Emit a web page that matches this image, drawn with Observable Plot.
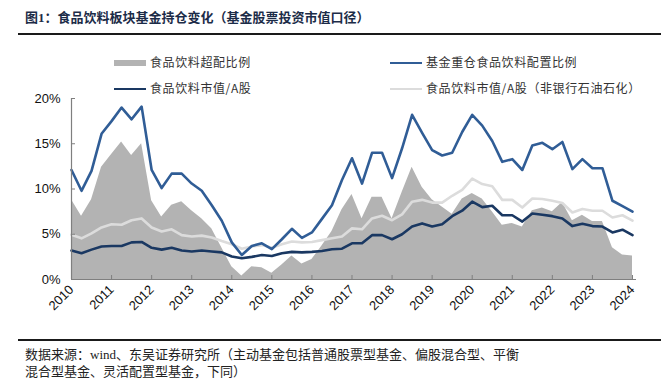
<!DOCTYPE html>
<html><head><meta charset="utf-8">
<script src="https://cdn.jsdelivr.net/npm/d3@7"></script>
<script src="https://cdn.jsdelivr.net/npm/@observablehq/plot@0.6"></script>
<style>
body{margin:0;width:666px;height:389px;position:relative;background:#fff;overflow:hidden;font-family:"Noto Sans CJK SC",sans-serif;}
#title{position:absolute;left:25px;top:7px;font-size:13px;font-weight:bold;color:#1c2c48;font-family:"Liberation Serif","Noto Sans CJK SC",serif;white-space:nowrap;}
.hr{position:absolute;left:18px;width:643px;height:2px;background:#1a1a1a;}
#chart{position:absolute;left:0;top:0;}
.lg{position:absolute;font-size:12px;color:#333;letter-spacing:0.6px;white-space:nowrap;line-height:14px;}
.sw{position:absolute;}
#foot{position:absolute;left:25px;top:346px;font-size:13px;line-height:17px;color:#222;font-family:"Liberation Serif","Noto Sans CJK SC",serif;white-space:nowrap;}
</style></head>
<body>
<div id="title">图1：食品饮料板块基金持仓变化（基金股票投资市值口径）</div>
<div class="hr" style="top:33px"></div>
<div id="chart"></div>
<div class="hr" style="top:339px"></div>
<div id="foot">数据来源：wind、东吴证券研究所（主动基金包括普通股票型基金、偏股混合型、平衡<br>混合型基金、灵活配置型基金，下同）</div>
<script>
// quarterly observations, 2010Q1 .. 2024Q1
const quarterCount = 57;
// 食品饮料超配比例 (%)
const overweight = [8.8,7.0,8.8,12.4,13.8,15.2,13.7,15.0,8.7,6.9,8.2,8.6,7.6,6.7,5.6,3.5,1.4,0.4,1.4,1.3,0.7,1.6,2.6,1.7,2.2,3.7,5.3,7.7,9.4,6.7,9.1,9.1,6.7,9.6,12.4,10.2,8.8,8.0,7.2,8.9,9.5,8.9,7.5,6.0,6.2,5.8,7.6,7.9,7.5,8.5,6.5,7.1,6.4,6.4,3.5,2.7,2.6];
// 基金重仓食品饮料配置比例 (%)
const heavy = [12.1,9.8,12.0,16.1,17.5,19.0,17.7,19.1,12.1,10.1,11.7,11.7,10.6,9.8,8.2,6.5,4.1,2.7,3.7,4.0,3.35,4.45,5.6,4.6,5.2,6.7,8.2,11.0,13.4,10.6,14.0,14.0,11.2,14.5,18.2,16.2,14.3,13.7,14.0,16.3,18.2,17.0,15.3,13.0,13.3,12.1,14.8,15.1,14.4,15.2,12.2,13.3,12.3,12.3,8.7,8.1,7.5];
// 食品饮料市值/A股 (%)
const mktShare = [3.2,2.9,3.3,3.65,3.7,3.7,4.1,4.15,3.5,3.3,3.5,3.2,3.1,3.2,3.1,3.0,2.55,2.35,2.5,2.7,2.6,2.9,3.05,3.0,3.05,3.15,3.35,3.4,4.0,4.0,4.9,4.9,4.45,5.0,5.85,6.2,5.85,6.1,7.0,7.6,8.6,8.0,8.15,7.1,7.1,6.4,7.3,7.15,7.0,6.75,5.9,6.15,5.9,5.85,5.2,5.5,4.9];
// 食品饮料市值/A股（非银行石油石化） (%)
const mktShareEx = [4.95,4.55,5.1,5.75,6.1,6.05,6.55,6.75,5.75,5.3,5.55,4.9,4.75,4.85,4.65,4.25,3.9,3.4,3.65,3.8,3.5,3.9,4.2,4.1,4.15,4.35,4.55,4.75,5.65,5.55,6.75,7.05,6.55,7.2,8.6,8.8,8.5,8.5,9.25,9.9,11.15,10.55,10.3,8.8,8.8,7.95,8.95,8.9,8.7,8.45,7.4,7.8,7.6,7.6,6.85,7.1,6.5];
const yearTicks = [2010,2011,2012,2013,2014,2015,2016,2017,2018,2019,2020,2021,2022,2023,2024];
const yTicks = [0,5,10,15,20];
const legendItems = ["食品饮料超配比例","基金重仓食品饮料配置比例","食品饮料市值/A股","食品饮料市值/A股（非银行石油石化）"];
const colors = ["#b3b3b3","#305d96","#1a3862","#dcdcdc"];

const rows = d3.range(quarterCount).map(i => ({
  t: 2010 + i / 4,
  over: overweight[i], heavy: heavy[i], mkt: mktShare[i], ex: mktShareEx[i]
}));

const chart = Plot.plot({
  width: 666, height: 330,
  marginLeft: 71, marginRight: 30, marginTop: 98, marginBottom: 51,
  x: {domain: [2010, 2024.1]},
  y: {domain: [0, 20]},
  style: {fontFamily: "'Liberation Sans', Arial, sans-serif", fontSize: "13px", color: "#222", background: "transparent"},
  marks: [
    Plot.areaY(rows, {x: "t", y: "over", fill: colors[0]}),
    Plot.lineY(rows, {x: "t", y: "ex", stroke: colors[3], strokeWidth: 2.6}),
    Plot.lineY(rows, {x: "t", y: "mkt", stroke: colors[2], strokeWidth: 2.6}),
    Plot.lineY(rows, {x: "t", y: "heavy", stroke: colors[1], strokeWidth: 2.6}),
    Plot.ruleX([2010], {stroke: "#7f7f7f", strokeWidth: 1.2}),
    Plot.ruleY([0], {stroke: "#7f7f7f", strokeWidth: 1.2}),
    Plot.axisY({ticks: yTicks, tickFormat: d => d + "%", tickSize: -4, tickPadding: 15, stroke: "#7f7f7f", fill: "#111", label: null}),
    Plot.axisX({ticks: yearTicks, tickFormat: d => String(d), tickRotate: -45, tickSize: -4, tickPadding: 12, stroke: "#7f7f7f", fill: "#111", label: null})
  ]
});
document.getElementById("chart").appendChild(chart);

// legend
const pos = [
  {sx: 114, y: 63, type: "rect"},
  {sx: 390, y: 63, type: "line"},
  {sx: 114, y: 89, type: "line"},
  {sx: 390, y: 89, type: "line"}
];
legendItems.forEach((label, i) => {
  const p = pos[i];
  const sw = document.createElement("div");
  sw.className = "sw";
  const h = p.type === "rect" ? 6 : 2.6;
  sw.style.cssText = `left:${p.sx}px;top:${p.y - h/2}px;width:32px;height:${h}px;background:${colors[i]};`;
  document.body.appendChild(sw);
  const t = document.createElement("div");
  t.className = "lg";
  t.textContent = label;
  t.style.left = (p.sx + 36) + "px";
  t.style.top = (p.y - 8) + "px";
  document.body.appendChild(t);
});
</script>
</body></html>
